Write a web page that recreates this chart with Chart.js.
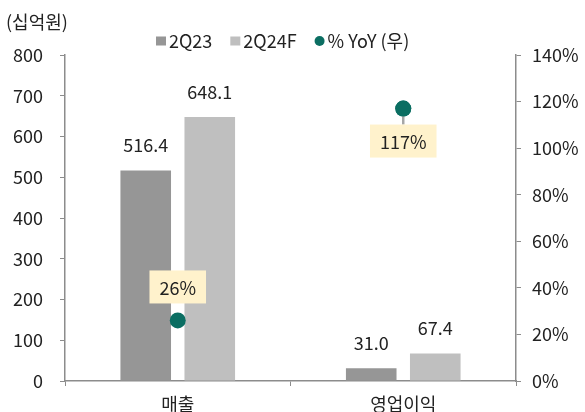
<!DOCTYPE html>
<html>
<head>
<meta charset="utf-8">
<script src="https://cdn.jsdelivr.net/npm/chart.js@4"></script>
<style>
  html, body { margin: 0; padding: 0; background: #fff; }
  #wrap { width: 585px; height: 412px; position: relative; }
</style>
</head>
<body>
<div id="wrap"><canvas id="grafico"></canvas></div>
<script>
// datos
const categorias = ['매출', '영업이익'];
const serie2Q23 = [516.4, 31.0];
const serie2Q24F = [648.1, 67.4];
const yoy = [26, 117];
const ticksIzq = [0, 100, 200, 300, 400, 500, 600, 700, 800];
const ticksDer = [0, 20, 40, 60, 80, 100, 120, 140];

const fuente = "'Noto Sans CJK KR', 'Noto Sans', sans-serif";
const colorTexto = '#222222';
const colorEje = '#8c8c8c';

// leyenda, etiquetas de valores, cajas de % y titulo de unidad
const etiquetas = {
    id: 'etiquetas',
    afterDatasetsDraw(chart) {
        const ctx = chart.ctx;
        ctx.save();
        ctx.font = '18px ' + fuente;
        ctx.fillStyle = colorTexto;
        ctx.textAlign = 'center';
        ctx.textBaseline = 'middle';
        [0, 1].forEach(function (d) {
            const meta = chart.getDatasetMeta(d);
            meta.data.forEach(function (bar, i) {
                const v = chart.data.datasets[d].data[i];
                ctx.fillText(v.toFixed(1), bar.x, bar.y - 25);
            });
        });

        const metaPts = chart.getDatasetMeta(2);
        metaPts.data.forEach(function (pt, i) {
            const txt = yoy[i] + '%';
            ctx.font = '18px ' + fuente;
            const w = ctx.measureText(txt).width + 20;
            const h = 33;
            let top;
            if (i === 0) {
                top = pt.y - 17 - h;
            } else {
                top = pt.y + 16;
                ctx.strokeStyle = '#a6a6a6';
                ctx.lineWidth = 2.5;
                ctx.beginPath();
                ctx.moveTo(pt.x, pt.y);
                ctx.lineTo(pt.x, top);
                ctx.stroke();
            }
            ctx.fillStyle = '#fff2cc';
            ctx.fillRect(pt.x - w / 2, top, w, h);
            ctx.fillStyle = colorTexto;
            ctx.fillText(txt, pt.x, top + h / 2 + 1);
            if (i === 1) pt.draw(ctx);
        });

        // titulo de unidad
        ctx.fillStyle = colorTexto;
        ctx.font = '18px ' + fuente;
        ctx.textAlign = 'left';
        ctx.fillText('(십억원)', 6, 22);

        // leyenda
        let x = 156;
        const yl = 41;
        chart.data.datasets.forEach(function (ds) {
            ctx.fillStyle = ds.backgroundColor;
            if (ds.type === 'line') {
                ctx.beginPath();
                ctx.arc(x + 5, yl, 5, 0, Math.PI * 2);
                ctx.fill();
            } else {
                ctx.fillRect(x, yl - 4.5, 10, 9);
            }
            x += 13;
            ctx.fillStyle = colorTexto;
            ctx.fillText(ds.label, x, yl);
            x += ctx.measureText(ds.label).width + 18;
        });
        ctx.restore();
    }
};

new Chart(document.getElementById('grafico').getContext('2d'), {
    type: 'bar',
    data: {
        labels: categorias,
        datasets: [{
            label: '2Q23',
            data: serie2Q23,
            backgroundColor: '#969696',
            order: 1,
            barPercentage: 0.79,
            categoryPercentage: 0.568
        }, {
            label: '2Q24F',
            data: serie2Q24F,
            backgroundColor: '#bfbfbf',
            order: 1,
            barPercentage: 0.79,
            categoryPercentage: 0.568
        }, {
            type: 'line',
            label: '% YoY (우)',
            data: yoy,
            yAxisID: 'y2',
            showLine: false,
            order: 0,
            pointStyle: 'circle',
            pointRadius: 8,
            pointHoverRadius: 8,
            backgroundColor: '#0b6e62',
            pointBackgroundColor: '#0b6e62',
            pointBorderWidth: 0,
            borderColor: '#0b6e62'
        }]
    },
    options: {
        responsive: true,
        maintainAspectRatio: false,
        animation: false,
        layout: { padding: { top: 55, left: 0, right: 0, bottom: 0 } },
        plugins: {
            legend: { display: false },
            tooltip: { enabled: false }
        },
        scales: {
            x: {
                afterFit: function (s) { s.height = 31; },
                ticks: { color: colorTexto, font: { size: 18, family: fuente }, padding: 7 },
                grid: { display: true, drawOnChartArea: false, tickLength: 5, color: colorEje, offset: true },
                border: { color: colorEje, width: 1.5 }
            },
            y: {
                min: 0,
                max: 800,
                afterFit: function (s) { s.width = 65; },
                afterBuildTicks: function (s) { s.ticks = ticksIzq.map(function (v) { return { value: v }; }); },
                ticks: { color: colorTexto, font: { size: 18, family: fuente }, padding: 17 },
                grid: { display: true, drawOnChartArea: false, tickLength: 5, color: colorEje },
                border: { color: colorEje, width: 1.5 }
            },
            y2: {
                position: 'right',
                min: 0,
                max: 140,
                afterFit: function (s) { s.width = 69; },
                afterBuildTicks: function (s) { s.ticks = ticksDer.map(function (v) { return { value: v }; }); },
                ticks: {
                    color: colorTexto,
                    font: { size: 18, family: fuente },
                    padding: 11,
                    callback: function (v) { return v + '%'; }
                },
                grid: { display: true, drawOnChartArea: false, tickLength: 5, color: colorEje },
                border: { color: colorEje, width: 1.5 }
            }
        }
    },
    plugins: [etiquetas]
});
</script>
</body>
</html>
